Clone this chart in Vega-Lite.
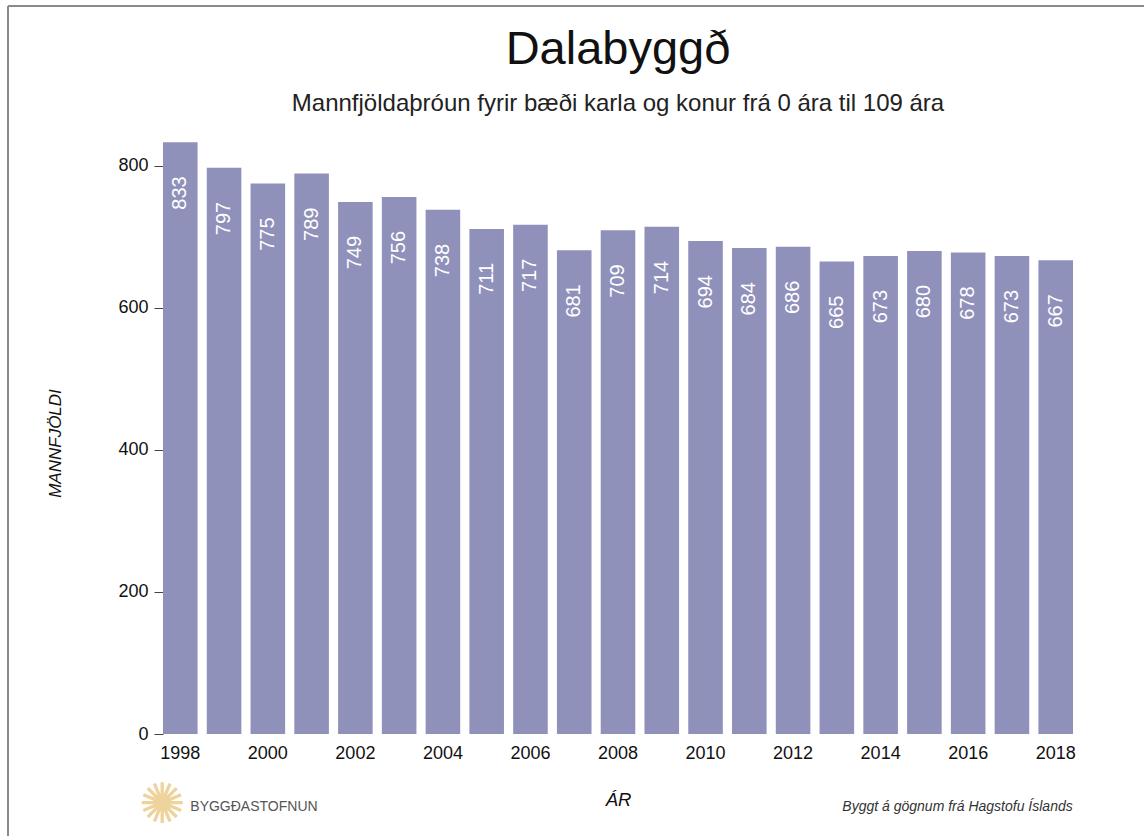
{
  "$schema": "https://vega.github.io/schema/vega-lite/v6.json",
  "autosize": {"type": "none"},
  "padding": {"left": 8, "top": 6, "right": 0, "bottom": 0},
  "width": 1136,
  "height": 830,
  "background": "white",
  "config": {
    "font": "Liberation Sans",
    "view": {"stroke": "#8a8a8a", "strokeWidth": 2, "strokeDash": [1136, 1966, 830, 0]}
  },
  "title": {
    "text": "Dalabyggð",
    "subtitle": "Mannfjöldaþróun fyrir bæði karla og konur frá 0 ára til 109 ára",
    "fontSize": 47,
    "fontWeight": "normal",
    "color": "#111111",
    "subtitleFontSize": 24,
    "subtitleColor": "#222222",
    "subtitlePadding": 18,
    "anchor": "middle",
    "frame": "group",
    "offset": -111,
    "dx": 42
  },
  "data": {
    "values": [
      {"year": 1998, "pop": 833},
      {"year": 1999, "pop": 797},
      {"year": 2000, "pop": 775},
      {"year": 2001, "pop": 789},
      {"year": 2002, "pop": 749},
      {"year": 2003, "pop": 756},
      {"year": 2004, "pop": 738},
      {"year": 2005, "pop": 711},
      {"year": 2006, "pop": 717},
      {"year": 2007, "pop": 681},
      {"year": 2008, "pop": 709},
      {"year": 2009, "pop": 714},
      {"year": 2010, "pop": 694},
      {"year": 2011, "pop": 684},
      {"year": 2012, "pop": 686},
      {"year": 2013, "pop": 665},
      {"year": 2014, "pop": 673},
      {"year": 2015, "pop": 680},
      {"year": 2016, "pop": 678},
      {"year": 2017, "pop": 673},
      {"year": 2018, "pop": 667}
    ]
  },
  "encoding": {
    "x": {
      "field": "year",
      "type": "ordinal",
      "scale": {"type": "band", "range": [155, 1065], "paddingInner": 0.21, "paddingOuter": 0},
      "axis": {
        "values": [1998, 2000, 2002, 2004, 2006, 2008, 2010, 2012, 2014, 2016, 2018],
        "labelAngle": 0,
        "labelFontSize": 18,
        "labelColor": "#111111",
        "labelPadding": 10,
        "labelBaseline": "top",
        "ticks": false,
        "tickSize": 0,
        "domain": false,
        "grid": false,
        "offset": -102,
        "title": "ÁR",
        "titleFontSize": 18.5,
        "titleFontStyle": "italic",
        "titleFontWeight": "normal",
        "titleColor": "#111111",
        "titleX": 610,
        "titleY": 71,
        "titleAlign": "center",
        "titleBaseline": "alphabetic"
      }
    },
    "y": {
      "field": "pop",
      "type": "quantitative",
      "scale": {"domain": [0, 840], "range": [728, 131.3], "nice": false, "zero": true},
      "axis": {
        "values": [0, 200, 400, 600, 800],
        "labelFontSize": 18,
        "labelColor": "#111111",
        "labelPadding": 6,
        "tickSize": 9,
        "tickColor": "#444444",
        "tickWidth": 1,
        "domain": false,
        "grid": false,
        "offset": -155,
        "title": "MANNFJÖLDI",
        "titleFontSize": 17,
        "titleFontStyle": "italic",
        "titleFontWeight": "normal",
        "titleColor": "#111111",
        "titleAngle": 270,
        "titleX": -108,
        "titleY": 437,
        "titleAlign": "center",
        "titleBaseline": "middle"
      }
    }
  },
  "layer": [
    {
      "mark": {"type": "bar", "color": "#8f91bb"}
    },
    {
      "mark": {
        "type": "text",
        "angle": 270,
        "align": "right",
        "baseline": "middle",
        "dx": -34,
        "fontSize": 20,
        "color": "white"
      },
      "encoding": {
        "text": {"field": "pop", "type": "quantitative"}
      }
    },
    {
      "transform": [{"filter": "datum.year == 1998"}],
      "mark": {
        "type": "text",
        "align": "left",
        "baseline": "alphabetic",
        "dx": 10,
        "fontSize": 14,
        "color": "#555555",
        "text": "BYGGÐASTOFNUN"
      },
      "encoding": {
        "y": {"datum": -109, "type": "quantitative"}
      }
    },
    {
      "transform": [{"filter": "datum.year == 1998"}],
      "mark": {
        "type": "text",
        "align": "center",
        "baseline": "middle",
        "dx": -18,
        "fontSize": 56,
        "font": "DejaVu Sans",
        "color": "#efd39d",
        "text": "✺"
      },
      "encoding": {
        "y": {"datum": -102, "type": "quantitative"}
      }
    },
    {
      "transform": [{"filter": "datum.year == 2018"}],
      "mark": {
        "type": "text",
        "align": "right",
        "baseline": "alphabetic",
        "dx": 17,
        "fontSize": 14,
        "fontStyle": "italic",
        "color": "#333333",
        "text": "Byggt á gögnum frá Hagstofu Íslands"
      },
      "encoding": {
        "y": {"datum": -108, "type": "quantitative"}
      }
    }
  ]
}
